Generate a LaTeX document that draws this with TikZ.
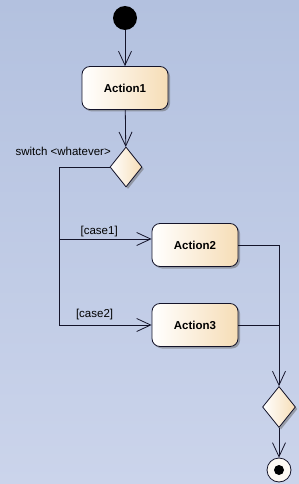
\documentclass[tikz,border=0pt]{standalone}
\usepackage{fontspec}
\setmainfont{Liberation Sans}
\usepackage{tikz}
\usetikzlibrary{arrows.meta, positioning, shapes.geometric, shadows}
\definecolor{umlbg}{HTML}{B3C1DF}
\definecolor{umlbglight}{HTML}{CBD4EB}
\definecolor{umlcream}{HTML}{F6DDB6}
\definecolor{umlline}{HTML}{14142A}

\begin{document}
\begin{tikzpicture}[
    x=1pt, y=-1pt,
    font=\fontsize{11.5}{13}\selectfont,
    flow/.style={-{Straight Barb[length=14pt, width=13pt]}, line width=0.8pt, umlline},
    joinline/.style={line width=0.8pt, umlline},
    guard/.style={above, text=black, inner sep=2pt},
    actionbox/.style={rectangle, rounded corners=8pt, draw=umlline, line width=0.8pt,
        left color=white, right color=umlcream, minimum width=86pt, minimum height=43pt,
        font=\fontsize{11.5}{13}\selectfont\bfseries,
        drop shadow={shadow xshift=2pt, shadow yshift=-2pt, fill=gray!80!black, opacity=0.5}},
    choice/.style={diamond, draw=umlline, line width=0.8pt, inner sep=0pt,
        left color=white, right color=umlcream, minimum width=32pt, minimum height=40pt,
        drop shadow={shadow xshift=2pt, shadow yshift=-2pt, fill=gray!80!black, opacity=0.5}},
]
    % background
    \useasboundingbox (0,0) rectangle (299,484);
    \shade[top color=umlbg, bottom color=umlbglight] (0,0) rectangle (299,484);

    % nodes
    \node[circle, fill=black, minimum size=24pt, inner sep=0pt] (start) at (125,18) {};
    \node[actionbox] (act1) at (125,88) {Action1};
    \node[choice] (split) at (126,167) {};
    \node[anchor=east, inner sep=0pt] (splitlabel) at (111,151) {switch <whatever>};
    \node[actionbox] (act2) at (195,245) {Action2};
    \node[actionbox] (act3) at (195,325) {Action3};
    \node[choice, minimum width=33pt, minimum height=41pt] (merge) at (279,407) {};
    \node[circle, draw=umlline, line width=0.8pt, fill=white!85!umlcream,
        minimum size=24pt, inner sep=0pt] (stop) at (279,470) {};
    \node[circle, fill=black, minimum size=10pt, inner sep=0pt] (stopdot) at (stop) {};

    % flows
    \draw[flow] (start) -- (act1);
    \draw[flow] (act1) -- (split);
    \draw[flow] (split.west) -- ++(-50,0) |- node[guard, pos=0.715] {[case1]} ([yshift=6pt]act2.west);
    \draw[flow] (split.west) -- ++(-50,0) |- node[guard, pos=0.69, yshift=3pt] {[case2]} (act3.west);
    \draw[flow] (act2.east) -| (merge.north);
    \draw[joinline] (act3.east) -- (act3.east -| merge.north);
    \draw[flow] (merge.south) -- (stop);
\end{tikzpicture}
\end{document}
